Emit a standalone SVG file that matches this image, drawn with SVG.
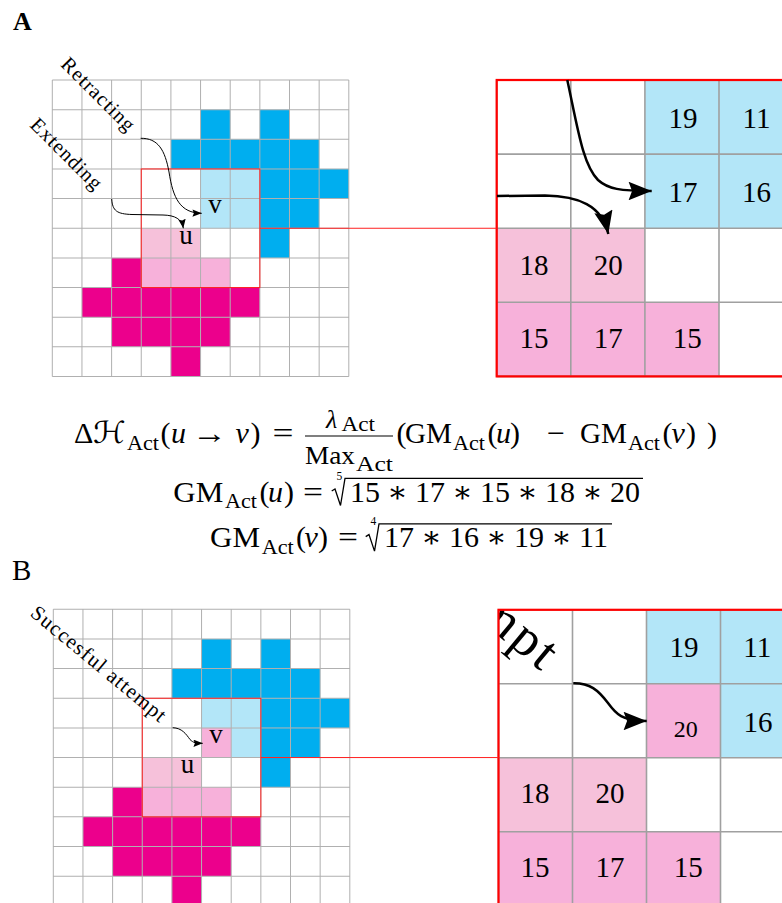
<svg xmlns="http://www.w3.org/2000/svg" width="782" height="903" viewBox="0 0 782 903">
<style>
.db{fill:#00AEEF}.lb{fill:#B3E6F8}.lp{fill:#F6C1DA}.pk{fill:#F7B1DA}.mg{fill:#EC008C}
.gl{fill:none;stroke:#B0B0B0;stroke-width:1}
.zl{fill:none;stroke:#A0A0A0;stroke-width:1.6}
.rd{fill:none;stroke:#FF2020;stroke-width:1}
.rz{fill:none;stroke:#FF0000;stroke-width:2.2}
.num{font-family:"Liberation Serif",serif;font-size:29px;text-anchor:middle;fill:#000}
.lbl{font-family:"Liberation Serif",serif;font-size:27px;text-anchor:middle;fill:#000}
.rot{font-family:"Liberation Serif",serif;font-size:20.5px;fill:#000}
.m{font-family:"Liberation Serif","DejaVu Serif",serif;font-size:30px;fill:#000}
.s{font-size:21px}
.it{font-style:italic}
.cal{font-family:"DejaVu Serif","DejaVu Sans",serif;font-style:italic}
.ar{fill:none;stroke:#000;stroke-width:1;marker-end:url(#ah)}
.arz{fill:none;stroke:#000;stroke-width:2.5;marker-end:url(#ah)}
</style>
<defs>
<marker id="ah" viewBox="0 0 10 8" refX="10" refY="4" markerWidth="9.5" markerHeight="7.4" orient="auto" markerUnits="strokeWidth">
<path d="M0,0 L10,4 L0,8 L1.5,4 z" fill="#000"/>
</marker>
<path id="grid10" d="M0 0H10M0 1H10M0 2H10M0 3H10M0 4H10M0 5H10M0 6H10M0 7H10M0 8H10M0 9H10M0 10H10M0 0V10M1 0V10M2 0V10M3 0V10M4 0V10M5 0V10M6 0V10M7 0V10M8 0V10M9 0V10M10 0V10"/>
<path id="grid4" d="M0 0H4M0 1H4M0 2H4M0 3H4M0 4H4M0 0V4M1 0V4M2 0V4M3 0V4M4 0V4"/>
<clipPath id="clipB"><rect x="498.5" y="609.8" width="296" height="296"/></clipPath>
</defs>
<rect width="782" height="903" fill="#fff"/>

<!-- Panel labels -->
<text id="labelA" x="13" y="30" font-family="Liberation Serif,serif" font-weight="bold" font-size="26">A</text>
<text id="labelB" x="12" y="580" font-family="Liberation Serif,serif" font-size="29">B</text>

<!-- Panel A small grid -->
<g id="gridA" transform="translate(52.3 80) scale(29.65)">
<g class="db"><rect x="5" y="1" width="1" height="1"/><rect x="7" y="1" width="1" height="1"/><rect x="4" y="2" width="5" height="1"/><rect x="7" y="3" width="3" height="1"/><rect x="7" y="4" width="2" height="1"/><rect x="7" y="5" width="1" height="1"/></g>
<rect class="lb" x="5" y="3" width="2" height="2"/>
<rect class="lp" x="3" y="5" width="2" height="1"/>
<rect class="pk" x="3" y="6" width="3" height="1"/>
<g class="mg"><rect x="2" y="6" width="1" height="1"/><rect x="1" y="7" width="6" height="1"/><rect x="2" y="8" width="4" height="1"/><rect x="4" y="9" width="1" height="1"/></g>
<use href="#grid10" class="gl" style="stroke-width:0.034"/>
<rect class="rd" x="3" y="3" width="4" height="4" style="stroke-width:0.034"/>
</g>
<text class="lbl" x="215" y="213.3">v</text>
<text class="lbl" x="186" y="244">u</text>
<text class="rot" transform="translate(59.8 65.3) rotate(45)" textLength="95">Retracting</text>
<text class="rot" transform="translate(29.1 126) rotate(45)" textLength="92">Extending</text>

<!-- Panel A zoom -->
<g id="zoomA" transform="translate(496.7 80) scale(74.1)">
<rect width="4" height="4" fill="#fff"/>
<rect class="lb" x="2" y="0" width="2" height="2"/>
<rect class="lp" x="0" y="2" width="2" height="1"/>
<rect class="pk" x="0" y="3" width="3" height="1"/>
<use href="#grid4" class="zl" style="stroke-width:0.0216"/>
<rect class="rz" width="4" height="4" style="stroke-width:0.03"/>
</g>
<g id="numsA" class="num">
<text x="683" y="128">19</text><text x="756.5" y="128">11</text>
<text x="683" y="201.7">17</text><text x="756.5" y="201.7">16</text>
<text x="534" y="275">18</text><text x="608.3" y="275">20</text>
<text x="534" y="348.3">15</text><text x="608.3" y="348.3">17</text><text x="687.3" y="348.3">15</text>
</g>

<!-- Panel B small grid -->
<g id="gridB" transform="translate(53.3 609.3) scale(29.65)">
<g class="db"><rect x="5" y="1" width="1" height="1"/><rect x="7" y="1" width="1" height="1"/><rect x="4" y="2" width="5" height="1"/><rect x="7" y="3" width="3" height="1"/><rect x="7" y="4" width="2" height="1"/><rect x="7" y="5" width="1" height="1"/></g>
<rect class="lb" x="5" y="3" width="2" height="1"/><rect class="lb" x="6" y="4" width="1" height="1"/>
<rect class="pk" x="5" y="4" width="1" height="1"/>
<rect class="lp" x="3" y="5" width="2" height="1"/>
<rect class="pk" x="3" y="6" width="3" height="1"/>
<g class="mg"><rect x="2" y="6" width="1" height="1"/><rect x="1" y="7" width="6" height="1"/><rect x="2" y="8" width="4" height="1"/><rect x="4" y="9" width="1" height="1"/></g>
<use href="#grid10" class="gl" style="stroke-width:0.034"/>
<rect class="rd" x="3" y="3" width="4" height="4" style="stroke-width:0.034"/>
</g>
<text class="lbl" x="216" y="743.3">v</text>
<text class="lbl" x="187.5" y="773.3">u</text>
<text id="succ" class="rot" transform="translate(29.2 615) rotate(39.7)" textLength="169" style="font-size:21px">Succesful attempt</text>

<!-- Panel B zoom -->
<g id="zoomB" transform="translate(498.5 609.8) scale(74)">
<rect width="4" height="4" fill="#fff"/>
<rect class="lb" x="2" y="0" width="2" height="1"/><rect class="lb" x="3" y="1" width="1" height="1"/>
<rect class="pk" x="2" y="1" width="1" height="1"/>
<rect class="lp" x="0" y="2" width="2" height="1"/>
<rect class="pk" x="0" y="3" width="3" height="1"/>
<use href="#grid4" class="zl" style="stroke-width:0.0216"/>
</g>
<g clip-path="url(#clipB)">
<use href="#succ" transform="translate(498.5 609.8) scale(2.496) translate(-142.25 -698.25)"/>
</g>
<rect class="rz" x="498.5" y="609.8" width="296" height="296"/>
<g id="numsB" class="num">
<text x="684" y="656.7">19</text><text x="757.3" y="656.7">11</text>
<text x="685.7" y="736.7" style="font-size:24px">20</text><text x="758" y="731.7">16</text>
<text x="535" y="803.3">18</text><text x="610" y="803.3">20</text>
<text x="535" y="877.3">15</text><text x="610" y="877.3">17</text><text x="688.3" y="877.3">15</text>
</g>

<!-- Connectors -->
<g id="connectors">
<line class="rd" x1="259.85" y1="228.25" x2="496.7" y2="228.25"/>
<line class="rd" x1="260.85" y1="757.55" x2="498.5" y2="757.55"/>
<path class="ar" d="M140.7,138.3 C158,138 165,150 169,172 C173,198 180,213 201.7,213.3"/>
<path class="ar" d="M111.7,199 C112.5,211 117,214 132,214.5 L163,215 C175,215.3 182,219 183.3,228.3"/>
<path class="ar" d="M172.7,727.7 C182,728 186,734 190,739.5 C193.5,743 196,743.3 202.7,743.3"/>
<path class="arz" d="M567.3,80 C578,130 583,165 598,180 C608,189 620,191 651.7,191"/>
<path class="arz" d="M497,196 L545,195.5 C578,196 602,205 608.3,234"/>
<path class="arz" d="M573.3,683.3 C590,683 598,690 608,703 C616,714 622,721 646.7,721"/>
</g>

<!-- Equations -->
<g id="eq1" class="m">
<text x="74" y="443">Δ</text>
<text x="93" y="443" class="cal" textLength="33" lengthAdjust="spacingAndGlyphs">ℋ</text>
<text x="127" y="449.5" class="s" textLength="32" lengthAdjust="spacingAndGlyphs">Act</text>
<text x="160.5" y="443">(<tspan class="it" x="171">u</tspan></text>
<text x="192" y="443" textLength="35" lengthAdjust="spacingAndGlyphs">→</text>
<text x="235.5" y="443" class="it">v<tspan font-style="normal" x="250.5">)</tspan></text>
<text x="272.5" y="443" textLength="21" lengthAdjust="spacingAndGlyphs">=</text>
<text x="326" y="428" class="it" style="font-size:26px">λ</text>
<text x="341.5" y="431" class="s" textLength="33.5" lengthAdjust="spacingAndGlyphs">Act</text>
<line x1="305" y1="436" x2="393" y2="436" stroke="#000" stroke-width="1.2"/>
<text x="305" y="463.5" style="font-size:26px" textLength="50" lengthAdjust="spacingAndGlyphs">Max</text>
<text x="356" y="471" class="s" textLength="37" lengthAdjust="spacingAndGlyphs">Act</text>
<text x="396.5" y="443">(</text>
<text x="405" y="443" textLength="47" lengthAdjust="spacingAndGlyphs">GM</text>
<text x="453" y="449.5" class="s" textLength="32" lengthAdjust="spacingAndGlyphs">Act</text>
<text x="487.5" y="443">(<tspan class="it" x="496">u</tspan><tspan x="510">)</tspan></text>
<text x="547" y="443" textLength="18" lengthAdjust="spacingAndGlyphs">−</text>
<text x="580" y="443" textLength="47" lengthAdjust="spacingAndGlyphs">GM</text>
<text x="628" y="449.5" class="s" textLength="32" lengthAdjust="spacingAndGlyphs">Act</text>
<text x="662.5" y="443">(<tspan class="it" x="671.5">v</tspan><tspan x="686">)</tspan><tspan x="707">)</tspan></text>
</g>
<g id="eq2" class="m">
<text x="173.3" y="502" textLength="50" lengthAdjust="spacingAndGlyphs">GM</text>
<text x="225" y="508" class="s" textLength="32" lengthAdjust="spacingAndGlyphs">Act</text>
<text x="259.5" y="502">(<tspan class="it" x="268">u</tspan><tspan x="284">)</tspan></text>
<text x="303" y="502" textLength="20" lengthAdjust="spacingAndGlyphs">=</text>
<path d="M331.7,491 L335,489 L340.5,505.5 L345,478.3 H643" fill="none" stroke="#000" stroke-width="1.3"/>
<text x="336.5" y="479.5" style="font-size:11.5px">5</text>
<text x="350" y="502">15</text><text x="397.5" y="502" text-anchor="middle">∗</text>
<text x="415" y="502">17</text><text x="462.5" y="502" text-anchor="middle">∗</text>
<text x="480" y="502">15</text><text x="527.5" y="502" text-anchor="middle">∗</text>
<text x="545" y="502">18</text><text x="592.5" y="502" text-anchor="middle">∗</text>
<text x="610" y="502">20</text>
</g>
<g id="eq3" class="m">
<text x="210" y="547.3" textLength="50" lengthAdjust="spacingAndGlyphs">GM</text>
<text x="261.7" y="553.5" class="s" textLength="32" lengthAdjust="spacingAndGlyphs">Act</text>
<text x="296" y="547.3">(<tspan class="it" x="304.5">v</tspan><tspan x="318">)</tspan></text>
<text x="338" y="547.3" textLength="20" lengthAdjust="spacingAndGlyphs">=</text>
<path d="M365.7,536.6 L369,534.6 L374.5,551.1 L379,523.9 H612" fill="none" stroke="#000" stroke-width="1.3"/>
<text x="370.5" y="525" style="font-size:11.5px">4</text>
<text x="384" y="547.3">17</text><text x="431.5" y="547.3" text-anchor="middle">∗</text>
<text x="449" y="547.3">16</text><text x="496.5" y="547.3" text-anchor="middle">∗</text>
<text x="514" y="547.3">19</text><text x="561.5" y="547.3" text-anchor="middle">∗</text>
<text x="579" y="547.3">11</text>
</g>
</svg>
